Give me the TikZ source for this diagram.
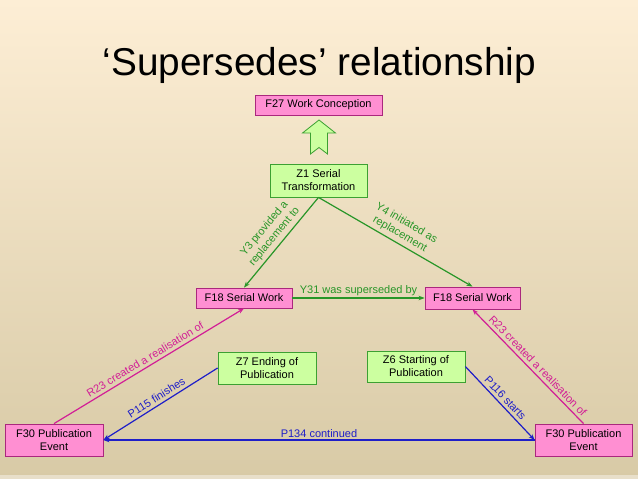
\documentclass[tikz,border=0pt]{standalone}
\usepackage{fontspec}
\setmainfont{Liberation Sans}
\usepackage{tikz}
\usetikzlibrary{arrows.meta,positioning}

\definecolor{fondhaut}{RGB}{253,238,213}
\definecolor{fondbas}{RGB}{216,202,166}
\definecolor{rose}{RGB}{255,143,210}
\definecolor{roseborde}{RGB}{170,40,125}
\definecolor{vert}{RGB}{204,255,160}
\definecolor{vertborde}{RGB}{60,160,50}
\definecolor{lienvert}{RGB}{40,150,40}
\definecolor{lienrose}{RGB}{210,30,150}
\definecolor{lienbleu}{RGB}{30,30,200}

\tikzset{
    fclass/.style={draw=roseborde, fill=rose, line width=0.8pt, align=center,
        inner sep=0pt, font=\fontsize{11}{13}\selectfont},
    zclass/.style={fclass, draw=vertborde, fill=vert},
    lien/.style={line width=1.2pt, -{Stealth[length=6pt,width=4.5pt]}},
    etiq/.style={sloped, above, align=center, inner sep=3pt,
        font=\fontsize{11}{13}\selectfont},
}

\begin{document}
\begin{tikzpicture}[x=1pt, y=-1pt]
    % Fond
    \shade[top color=fondhaut, bottom color=fondbas] (0,0) rectangle (638,479);
    \fill[fondbas!60!white] (0,475) rectangle (638,479);
    \useasboundingbox (0,0) rectangle (638,479);

    % Titre
    \node[anchor=base, font=\fontsize{38.8}{46}\selectfont] (titre) at (319.5,75)
        {‘Supersedes’ relationship};

    % Les entites
    \node[fclass, minimum width=127pt, minimum height=20pt] (f27) at (318.5,105) {F27 Work Conception};
    \node[zclass, minimum width=97pt, minimum height=33pt] (z1) at (318.5,180.5) {Z1 Serial\\Transformation};
    \node[fclass, minimum width=96pt, minimum height=20pt] (f18a) at (244,298) {F18 Serial Work};
    \node[fclass, minimum width=95pt, minimum height=22pt] (f18b) at (472.5,298) {F18 Serial Work};
    \node[zclass, minimum width=98pt, minimum height=32pt] (z7) at (267,368) {Z7 Ending of\\Publication};
    \node[zclass, minimum width=98pt, minimum height=31pt] (z6) at (416,366.5) {Z6 Starting of\\Publication};
    \node[fclass, minimum width=98pt, minimum height=32pt] (f30a) at (54,440) {F30 Publication\\Event};
    \node[fclass, minimum width=97pt, minimum height=32pt] (f30b) at (583.5,440) {F30 Publication\\Event};

    % Grosse fleche vers F27
    \draw[draw=vertborde, fill=vert, line width=0.8pt]
        (310.5,154) -- (310.5,133) -- (302.5,133) -- (319,120) -- (335.5,133)
        -- (327.5,133) -- (327.5,154) -- (319,147.5) -- cycle;

    % Liens Y (vert)
    \draw[lien, lienvert] (z1.south) -- node[etiq, lienvert] {Y3 provided a\\replacement to} (f18a.north);
    \draw[lien, lienvert] (z1.south) -- node[etiq, lienvert] {Y4 initiated as\\replacement} (f18b.north);
    \draw[lien, lienvert] (f18a.east) -- node[above, lienvert, inner sep=2pt, font=\fontsize{11}{13}\selectfont] {Y31 was superseded by} (f18b.west);

    % Liens R23 (rose)
    \draw[lien, lienrose] (f30a.north) -- node[etiq, lienrose] {R23 created a realisation of} (f18a.south);
    \draw[lien, lienrose] (f30b.north) -- node[etiq, lienrose, pos=0.46] {R23 created a realisation of} (f18b.south);

    % Liens P (bleu)
    \draw[lien, lienbleu] (z7.west) -- node[etiq, lienbleu] {P115 finishes} (f30a.east);
    \draw[lien, lienbleu] (z6.east) -- node[etiq, lienbleu] {P116 starts} (f30b.west);
    \draw[lien, lienbleu] (f30b.west) -- node[above, lienbleu, inner sep=2pt, font=\fontsize{11}{13}\selectfont] {P134 continued} (f30a.east);
\end{tikzpicture}
\end{document}
